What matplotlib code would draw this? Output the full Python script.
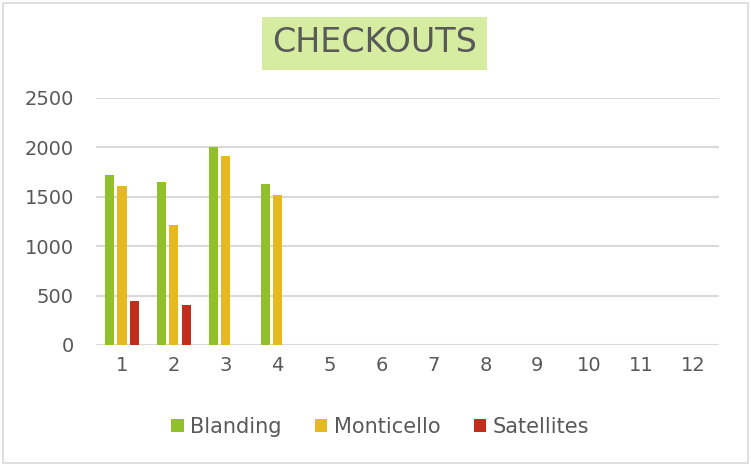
import numpy as np
import matplotlib.pyplot as plt
from matplotlib.patches import Rectangle

months = [str(m) for m in range(1, 13)]
blanding = [1720, 1645, 2005, 1630]
monticello = [1610, 1210, 1910, 1520]
satellites = [445, 405]
series = [("Blanding", blanding, "#92c02a"),
          ("Monticello", monticello, "#e6b920"),
          ("Satellites", satellites, "#c32d1c")]

grey = "#595959"
fig = plt.figure(figsize=(7.51, 4.66), dpi=100)
ax = fig.add_axes([96 / 751, 1 - 345 / 466, 623 / 751, 247 / 466])

x = np.arange(len(months))
w = 0.175
step = 0.235
for i, (name, vals, col) in enumerate(series):
    ax.bar(x[:len(vals)] + (i - 1) * step, vals, width=w, color=col,
           label=name, zorder=3)

ax.set_xlim(-0.5, len(months) - 0.5)
ax.set_ylim(0, 2500)
ax.set_yticks(range(0, 2501, 500))
ax.set_xticks(x)
ax.set_xticklabels(months)
ax.yaxis.grid(True, color="#d9d9d9", linewidth=1.5, zorder=0)
for s in ax.spines.values():
    s.set_visible(False)
ax.axhline(0, color="#d9d9d9", linewidth=1.5, zorder=2)
ax.tick_params(length=0, labelsize=14, colors=grey, pad=8)
ax.tick_params(axis="y", pad=16)

fig.text(374.5 / 751, 1 - 43 / 466, "CHECKOUTS", ha="center", va="center",
         fontsize=24, color=grey,
         bbox=dict(boxstyle="square,pad=0.3", fc="#d6eca0", ec="none"))

fig.legend(loc="center", bbox_to_anchor=(380 / 751, 1 - 427 / 466), ncol=3,
           frameon=False, fontsize=15, labelcolor=grey, handlelength=0.6,
           handleheight=0.6, handletextpad=0.3, columnspacing=1.6)

fig.patches.append(Rectangle((3 / 751, 3 / 466), 745 / 751, 460 / 466,
                             transform=fig.transFigure, fill=False,
                             ec="#d9d9d9", lw=1.2))
fig.savefig("out.png", dpi=100)
